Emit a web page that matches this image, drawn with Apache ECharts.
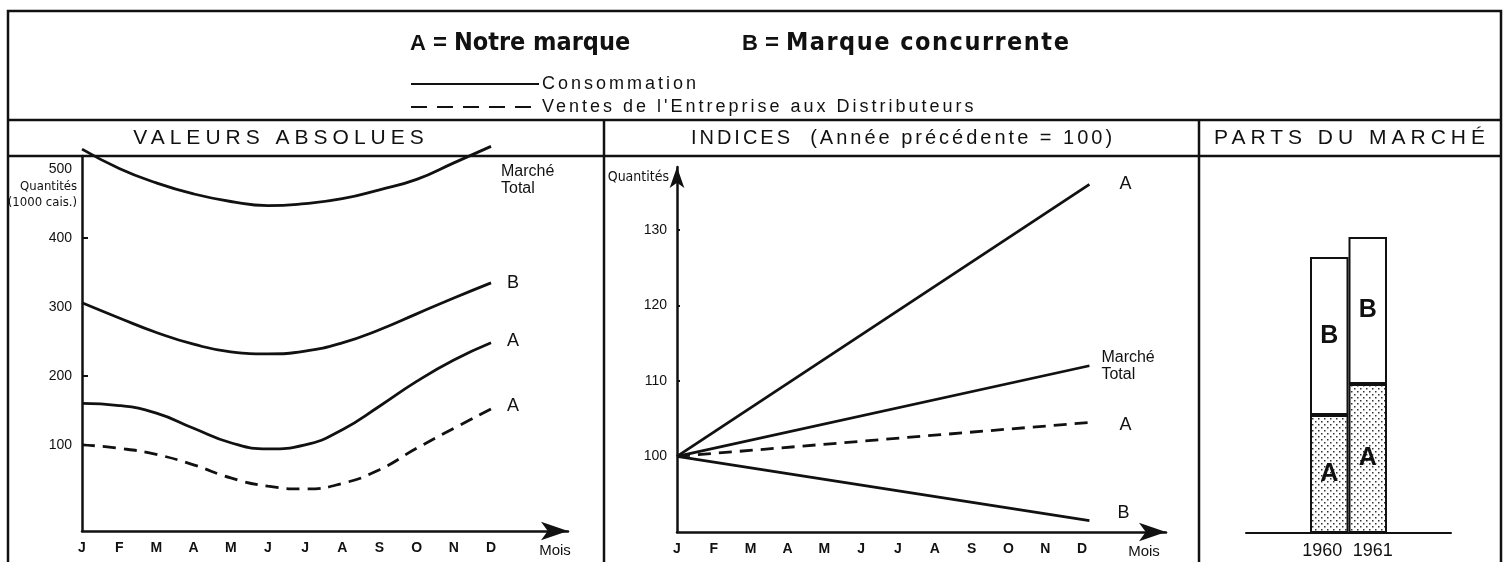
<!DOCTYPE html>
<html>
<head>
<meta charset="utf-8">
<script src="https://cdn.jsdelivr.net/npm/echarts@6/dist/echarts.min.js"></script>
<style>
  html, body { margin: 0; background: #fff; }
  #main { width: 1509px; height: 562px; }
</style>
</head>
<body>
<div id="main"></div>
<script>
// mois
var months = ['J', 'F', 'M', 'A', 'M', 'J', 'J', 'A', 'S', 'O', 'N', 'D'];

// valeurs absolues (1000 caisses)
var absMarche = [529, 501, 480, 464, 453, 447, 450, 457, 470, 485, 509, 533];
var absB = [306, 284, 263, 246, 235, 232, 236, 248, 267, 290, 313, 335];
var absA = [160, 157, 146, 124, 103, 94, 100, 122, 156, 192, 223, 248];
var absAVentes = [100, 95, 86, 71, 52, 40, 36, 44, 64, 95, 124, 152];
var absTicks = [100, 200, 300, 400, 500];

// indices (année précédente = 100), début J -> fin D
var idxX = [0, 11.2];
var idxA = [100, 136];
var idxMarche = [100, 112];
var idxAVentes = [100, 104.5];
var idxB = [100, 91.5];
var idxTicks = [100, 110, 120, 130];

// parts du marché
var years = ['1960', '1961'];
var partA = [31.3, 39.5];
var partB = [41.9, 39];

var narrow = "'Liberation Sans Narrow', 'DejaVu Sans Condensed', sans-serif";
var sans = "'Liberation Sans', Arial, sans-serif";
var ink = '#111';

// espacement des lettres pour les titres (comme l'original)
var spacing = {
  'VALEURS ABSOLUES': '5px',
  'INDICES  (Année précédente = 100)': '3px',
  'PARTS DU MARCHÉ': '5px',
  'Consommation': '3px',
  "Ventes de l'Entreprise aux Distributeurs": '3px',
  'Marque concurrente': '1.5px'
};
var fillText0 = CanvasRenderingContext2D.prototype.fillText;
CanvasRenderingContext2D.prototype.fillText = function (t, x, y, w) {
  if ('letterSpacing' in this) this.letterSpacing = spacing[t] || '0px';
  if (w === undefined) fillText0.call(this, t, x, y);
  else fillText0.call(this, t, x, y, w);
  if ('letterSpacing' in this) this.letterSpacing = '0px';
};

// trame pointillée pour A
var dots = document.createElement('canvas');
dots.width = 6; dots.height = 6;
var c = dots.getContext('2d');
c.fillStyle = '#fff';
c.fillRect(0, 0, 6, 6);
c.fillStyle = '#333';
c.fillRect(1, 1, 1.5, 1.5);
c.fillRect(4, 4, 1.5, 1.5);

var monthIdx = months.map(function (m, i) { return i; });
function pairs(xs, ys) {
  return ys.map(function (v, i) { return [xs[i], v]; });
}

function curve(name, xi, data, dashed, label, offset) {
  return {
    type: 'line',
    name: name,
    xAxisIndex: xi,
    yAxisIndex: xi,
    data: data,
    smooth: xi === 0 ? 0.5 : false,
    symbol: 'none',
    clip: false,
    silent: true,
    color: ink,
    lineStyle: { color: ink, width: 2.8, type: dashed ? [13, 8] : 'solid' },
    endLabel: {
      show: true,
      formatter: label,
      offset: offset,
      color: ink,
      fontFamily: sans,
      fontSize: label.length > 2 ? 16 : 18,
      lineHeight: 17
    }
  };
}

function monthAxis(gi, max, nameGap) {
  return {
    type: 'value',
    gridIndex: gi,
    min: 0,
    max: max,
    name: 'Mois',
    nameLocation: 'end',
    nameGap: nameGap,
    nameTextStyle: { color: ink, fontFamily: sans, fontSize: 15, align: 'center', verticalAlign: 'top', padding: [12, 0, 0, 0] },
    axisLine: { onZero: false, symbol: ['none', 'arrow'], symbolSize: [14, 27], lineStyle: { color: ink, width: 2.5 } },
    axisTick: { show: false },
    splitLine: { show: false },
    axisLabel: {
      customValues: monthIdx,
      formatter: function (v) { return months[v]; },
      margin: 10,
      color: ink,
      fontFamily: sans,
      fontWeight: 'bold',
      fontSize: 14
    }
  };
}

var headRich = {
  k: { fontFamily: sans, fontWeight: 'bold', fontSize: 22, color: ink },
  e: { fontFamily: sans, fontSize: 24, color: ink, padding: [0, 7, 0, 7] },
  n: { fontFamily: narrow, fontWeight: 'bold', fontSize: 25, color: ink }
};

var chart = echarts.init(document.getElementById('main'));

chart.setOption({
  backgroundColor: '#fff',
  animation: false,
  title: [
    { text: '{k|A}{e|=}{n|Notre marque}', left: 410, top: 31, padding: 0, textStyle: { rich: headRich } },
    { text: '{k|B}{e|=}{n|Marque concurrente}', left: 742, top: 31, padding: 0, textStyle: { rich: headRich } },
    { text: 'VALEURS ABSOLUES', left: 281, top: 138, padding: 0, textAlign: 'center', textVerticalAlign: 'middle',
      textStyle: { fontFamily: sans, fontWeight: 'normal', fontSize: 21, color: ink } },
    { text: 'INDICES  (Année précédente = 100)', left: 903, top: 138, padding: 0, textAlign: 'center', textVerticalAlign: 'middle',
      textStyle: { fontFamily: sans, fontWeight: 'normal', fontSize: 20, color: ink } },
    { text: 'PARTS DU MARCHÉ', left: 1352, top: 138, padding: 0, textAlign: 'center', textVerticalAlign: 'middle',
      textStyle: { fontFamily: sans, fontWeight: 'normal', fontSize: 21, color: ink } }
  ],
  legend: {
    data: [
      'Consommation',
      { name: "Ventes de l'Entreprise aux Distributeurs", lineStyle: { type: [16, 10] } }
    ],
    orient: 'vertical',
    left: 410, top: 75,
    padding: 0,
    itemWidth: 128, itemHeight: 12, itemGap: 5,
    selectedMode: false,
    itemStyle: { opacity: 0 },
    textStyle: { fontFamily: sans, fontSize: 18, color: ink, padding: [0, 0, 0, -2] }
  },
  grid: [
    { left: 82, top: 156, width: 486, height: 375 },
    { left: 677, top: 167, width: 489, height: 365 },
    { left: 1246, top: 156, width: 205, height: 377 },
    { left: 1310, top: 156, width: 77, height: 377 }
  ],
  xAxis: [
    monthAxis(0, 13.07, -13),
    monthAxis(1, 13.28, -22),
    { type: 'category', gridIndex: 2, data: [''], axisLine: { lineStyle: { color: ink, width: 2 } },
      axisTick: { show: false }, axisLabel: { show: false } },
    { type: 'category', gridIndex: 3, data: years, axisLine: { show: false }, axisTick: { show: false },
      axisLabel: { interval: 0, hideOverlap: false, margin: 9, color: ink, fontFamily: sans, fontSize: 18,
        formatter: function (v, i) { return i === 0 ? '{l|' + v + '}' : '{r|' + v + '}'; },
        rich: { l: { padding: [0, 14, 0, 0], fontFamily: sans, fontSize: 18, color: ink },
                r: { padding: [0, 0, 0, 10], fontFamily: sans, fontSize: 18, color: ink } } } }
  ],
  yAxis: [
    {
      type: 'value', gridIndex: 0, min: -25, max: 519,
      name: 'Quantités\n(1000 cais.)', nameLocation: 'end', nameGap: -23,
      nameTextStyle: { align: 'right', verticalAlign: 'top', padding: [0, 5, 0, 0], fontFamily: narrow, fontSize: 13, lineHeight: 16, color: ink },
      axisLine: { show: true, lineStyle: { color: ink, width: 2.5 } },
      axisTick: { show: true, inside: true, length: 6, customValues: [200, 400], lineStyle: { color: ink, width: 2 } },
      axisLabel: { customValues: absTicks, margin: 10, color: ink, fontFamily: sans, fontSize: 14 },
      splitLine: { show: false }
    },
    {
      type: 'value', gridIndex: 1, min: 90, max: 138.3,
      name: 'Quantités', nameLocation: 'end', nameGap: -10,
      nameTextStyle: { align: 'right', verticalAlign: 'middle', padding: [0, 8, 0, 0], fontFamily: narrow, fontSize: 14, color: ink },
      axisLine: { show: true, symbol: ['none', 'arrow'], symbolSize: [11, 21], lineStyle: { color: ink, width: 2.5 } },
      axisTick: { show: true, inside: true, length: 3, customValues: [110, 120, 130], lineStyle: { color: ink, width: 2 } },
      axisLabel: { customValues: idxTicks, margin: 10, color: ink, fontFamily: sans, fontSize: 14 },
      splitLine: { show: false }
    },
    { type: 'value', gridIndex: 2, min: 0, max: 100, show: false },
    { type: 'value', gridIndex: 3, min: 0, max: 100, show: false }
  ],
  series: [
    curve('Consommation', 0, pairs(monthIdx, absMarche), false, 'Marché\nTotal', [2, 34]),
    curve('Consommation', 0, pairs(monthIdx, absB), false, 'B', [8, 0]),
    curve('Consommation', 0, pairs(monthIdx, absA), false, 'A', [8, -2]),
    curve("Ventes de l'Entreprise aux Distributeurs", 0, pairs(monthIdx, absAVentes), true, 'A', [8, -3]),
    curve('Consommation', 1, pairs(idxX, idxA), false, 'A', [22, 0]),
    curve('Consommation', 1, pairs(idxX, idxMarche), false, 'Marché\nTotal', [4, 0]),
    curve("Ventes de l'Entreprise aux Distributeurs", 1, pairs(idxX, idxAVentes), true, 'A', [22, 3]),
    curve('Consommation', 1, pairs(idxX, idxB), false, 'B', [20, -8]),
    {
      type: 'bar', name: 'A', xAxisIndex: 3, yAxisIndex: 3, stack: 'parts', data: partA,
      barCategoryGap: '0%', silent: true,
      itemStyle: { color: { image: dots, repeat: 'repeat' }, borderColor: ink, borderWidth: 2 },
      label: { show: true, position: 'inside', formatter: 'A', color: ink, fontFamily: sans, fontWeight: 'bold', fontSize: 25 }
    },
    {
      type: 'bar', name: 'B', xAxisIndex: 3, yAxisIndex: 3, stack: 'parts', data: partB,
      barCategoryGap: '0%', silent: true,
      itemStyle: { color: '#fff', borderColor: ink, borderWidth: 2 },
      label: { show: true, position: 'inside', formatter: 'B', color: ink, fontFamily: sans, fontWeight: 'bold', fontSize: 25 }
    }
  ],
  graphic: [
    { type: 'rect', shape: { x: 8, y: 11, width: 1493, height: 600 }, style: { fill: null, stroke: ink, lineWidth: 2.5 }, silent: true },
    { type: 'line', shape: { x1: 8, y1: 120, x2: 1501, y2: 120 }, style: { stroke: ink, lineWidth: 2.5 }, silent: true },
    { type: 'line', shape: { x1: 8, y1: 156, x2: 1501, y2: 156 }, style: { stroke: ink, lineWidth: 2.5 }, silent: true },
    { type: 'line', shape: { x1: 604, y1: 120, x2: 604, y2: 562 }, style: { stroke: ink, lineWidth: 2.5 }, silent: true },
    { type: 'line', shape: { x1: 1199, y1: 120, x2: 1199, y2: 562 }, style: { stroke: ink, lineWidth: 2.5 }, silent: true }
  ]
});
</script>
</body>
</html>
